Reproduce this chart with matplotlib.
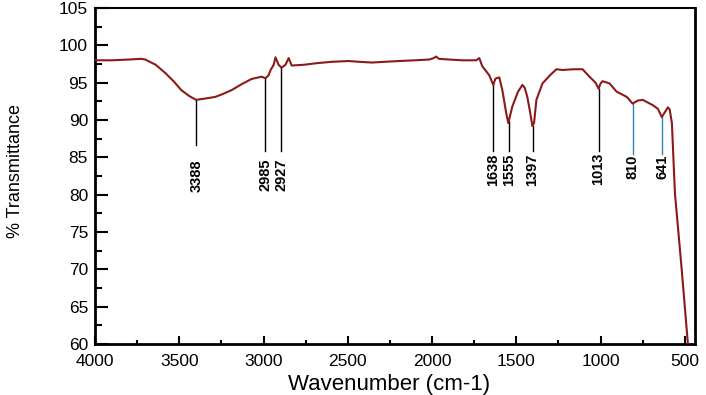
import matplotlib
matplotlib.use("Agg")
import matplotlib.pyplot as plt
import numpy as np
from matplotlib.ticker import MultipleLocator

plt.rcParams['font.family'] = ['Liberation Sans', 'DejaVu Sans']

# Spectrum
wavenumber = [4000, 3900, 3800, 3726, 3702, 3640, 3583, 3530, 3488, 3440, 3400, 3340, 3286,
              3240, 3190, 3130, 3071, 3012, 2988, 2970, 2958, 2940, 2929, 2911, 2893, 2870,
              2851, 2833, 2760, 2690, 2595, 2494, 2435, 2357, 2280, 2197, 2100, 2018, 1990,
              1976, 1960, 1899, 1820, 1738, 1720, 1702, 1661, 1637, 1625, 1619, 1601, 1583,
              1560, 1548, 1524, 1490, 1464, 1450, 1435, 1418, 1405, 1395, 1381, 1345, 1300,
              1262, 1226, 1160, 1107, 1066, 1030, 1012, 1000, 988, 947, 905, 845, 810, 780,
              750, 691, 660, 637, 620, 601, 590, 577, 559, 520, 482]
transmittance = [98.0, 98.0, 98.1, 98.2, 98.1, 97.4, 96.3, 95.1, 94.0, 93.2, 92.7, 92.9, 93.1,
                 93.5, 94.0, 94.8, 95.5, 95.8, 95.6, 96.0, 96.7, 97.4, 98.4, 97.4, 97.0, 97.4,
                 98.3, 97.3, 97.4, 97.6, 97.8, 97.9, 97.8, 97.7, 97.8, 97.9, 98.0, 98.1, 98.3,
                 98.5, 98.2, 98.1, 98.0, 98.0, 98.3, 97.2, 96.0, 94.7, 95.5, 95.6, 95.7, 94.0,
                 90.9, 89.6, 91.8, 93.8, 94.7, 94.3, 93.1, 91.0, 89.2, 89.6, 92.7, 94.9, 96.0,
                 96.8, 96.7, 96.8, 96.8, 95.8, 95.0, 94.2, 94.9, 95.2, 94.9, 93.8, 93.1, 92.2,
                 92.6, 92.7, 92.0, 91.5, 90.4, 91.0, 91.7, 91.4, 89.6, 80.2, 70.3, 60.0]

# Peak annotations
peak_labels = ['3388', '2985', '2927', '1638', '1555', '1397', '1013', '810', '641']
peak_pos = [3399, 2990, 2895, 1636, 1545, 1404, 1012, 808, 635]
line_end = [86.7, 85.8, 85.8, 85.8, 85.8, 85.8, 85.8, 85.5, 85.4]
text_top = [84.7, 84.9, 84.9, 85.5, 85.5, 85.5, 85.6, 85.4, 85.3]
line_colors = ['black'] * 7 + ['#2f86bd', '#2f86bd']

fig = plt.figure(figsize=(7.06, 3.95), dpi=100)
ax = fig.add_axes([0.1346, 0.129, 0.8498, 0.8507])

wn = np.array(wavenumber, dtype=float)
tr = np.array(transmittance, dtype=float)
ax.plot(wn, tr, color='#8b1a1a', lw=1.5, zorder=3)

for lab, p, le, tt, c in zip(peak_labels, peak_pos, line_end, text_top, line_colors):
    ytop = np.interp(p, wn[::-1], tr[::-1])
    ax.plot([p, p], [ytop, le], color=c, lw=1.0, zorder=2)
    ax.text(p, tt, lab, rotation=90, ha='center', va='top', fontsize=10.5,
            fontweight='bold', color='black')

ax.set_xlim(4000, 440)
ax.set_ylim(60, 105)
ax.xaxis.set_major_locator(MultipleLocator(500))
ax.xaxis.set_minor_locator(MultipleLocator(250))
ax.yaxis.set_major_locator(MultipleLocator(5))
ax.yaxis.set_minor_locator(MultipleLocator(2.5))
ax.tick_params(axis='both', which='major', direction='in', labelsize=12.5, width=1.5)
ax.tick_params(axis='x', which='major', length=6, pad=7)
ax.tick_params(axis='y', which='major', length=9, pad=5)
ax.tick_params(axis='both', which='minor', direction='in', width=1.5)
ax.tick_params(axis='x', which='minor', length=3)
ax.tick_params(axis='y', which='minor', length=5)
ax.tick_params(top=False, right=False, which='both')

for s in ['left', 'bottom', 'right']:
    ax.spines[s].set_linewidth(2.0)
ax.spines['top'].set_linewidth(1.5)

ax.set_xlabel('Wavenumber (cm-1)', fontsize=16)
ax.set_ylabel('% Transmittance', fontsize=13)
ax.xaxis.set_label_coords(0.49, -0.09)
ax.yaxis.set_label_coords(-0.118, 0.515)

fig.savefig('out.png', dpi=100)
